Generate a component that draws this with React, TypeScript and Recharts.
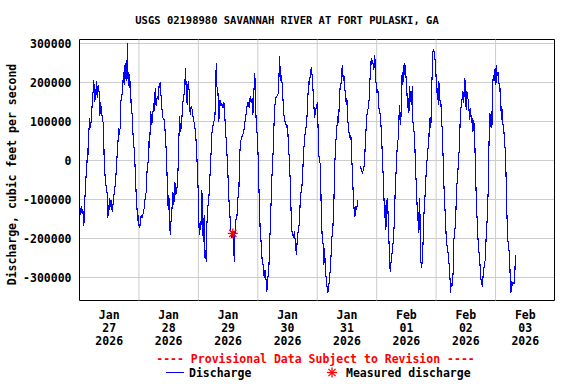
import React from 'react';
import {
  ComposedChart,
  Line,
  Scatter,
  XAxis,
  YAxis,
  CartesianGrid,
  ReferenceLine,
  ReferenceArea,
} from 'recharts';

// hours since 2026-01-27 00:00, discharge in cfs (thousands); null = gap in record
const discharge: [number, number | null][] = [
  [0.27, -122], [0.54, -140], [0.81, -118], [1.08, -138], [1.35, -125], [1.75, -169], [2.02, -122],
  [2.42, -62], [2.69, -37], [2.96, -15], [3.23, 32], [3.5, 15], [3.77, 74], [4.17, 109], [4.31, 83],
  [4.58, 91], [4.85, 117], [5.12, 143], [5.39, 168], [5.79, 207], [6.06, 151], [6.46, 160], [6.87, 203],
  [7.14, 160], [7.54, 194], [7.94, 173], [8.21, 113], [8.48, 151], [8.89, 126], [9.15, 113], [9.69, 91],
  [9.96, 2], [10.37, -45], [10.77, -67], [11.17, -84], [11.44, -148], [11.71, -114], [12.12, -127],
  [12.25, -97], [12.52, -118], [12.92, -101], [13.19, -131], [13.6, -109], [14.0, -84], [14.54, -58],
  [14.94, -11], [15.21, 15], [15.62, 57], [15.75, 83], [16.02, 66], [16.42, 83], [16.69, 151],
  [17.1, 164], [17.5, 194], [17.77, 228], [18.04, 194], [18.44, 250], [18.85, 203], [19.12, 239],
  [19.39, 301], [19.66, 190], [19.93, 228], [20.33, 186], [20.6, 203], [20.87, 134], [21.27, 117],
  [21.54, 74], [21.95, 40], [22.35, -3], [22.89, -88], [23.29, -131], [23.56, -156], [23.83, -139],
  [24.1, -174], [24.5, -165], [24.91, -139], [25.31, -148], [25.71, -135], [26.12, -122], [26.52, -97],
  [26.93, -80], [27.33, -20], [27.73, -3], [28.0, 49], [28.27, 32], [28.54, 83], [28.81, 126],
  [29.08, 91], [29.48, 104], [29.89, 147],
  [30.29, 126], [30.56, 186], [30.96, 139], [31.37, 164], [31.77, 156], [32.17, 194], [32.58, 198],
  [32.85, 173], [33.25, 134], [33.66, 109], [34.33, 104], [34.73, 53], [35.14, 15], [35.41, -54],
  [35.81, -127], [36.08, -88], [36.35, -139], [36.62, -191], [36.89, -161], [37.29, -131], [37.69, -80],
  [38.1, -114], [38.5, -54], [38.91, -88], [39.31, -75], [39.71, -37], [39.98, 19], [40.39, 113],
  [40.79, 74], [41.19, 87], [41.6, 143], [42.0, 160], [42.41, 177], [42.81, 237], [43.08, 186],
  [43.48, 143], [43.89, 203], [44.29, 177], [44.7, 117], [45.1, 139], [45.5, 130], [45.91, 109],
  [46.31, 96], [46.85, 74], [47.25, 32], [47.66, -32], [48.06, -105], [48.33, -191], [48.6, -165],
  [49.0, -178], [49.41, -75], [49.68, -131], [49.95, -208], [50.35, -139], [50.62, -250], [50.89, -229],
  [51.16, -259], [51.43, -165], [51.83, -118], [52.23, -97], [52.64, -45], [53.04, 6], [53.45, 70],
  [53.85, 87], [54.25, 100], [54.66, 109], [54.93, 168], [55.2, 250], [55.47, 190], [55.87, 182],
  [56.27, 100], [56.68, 156], [57.08, 139], [57.49, 147], [57.89, 134], [58.29, 151], [58.7, 109],
  [59.1, 66], [59.5, 23], [59.91, -32], [60.31, -97],
  [60.98, -165], [61.39, -199], [61.79, -191], [62.2, -182], [62.46, -259], [62.73, -191], [63.14, -152],
  [63.54, -148], [63.95, -97], [64.35, -80], [64.62, 6], [65.02, 49], [65.43, 57], [65.83, 66],
  [66.23, 70], [66.5, 83], [66.91, 104], [67.31, 121], [67.72, 143], [68.12, 151], [68.52, 134],
  [68.93, 164], [69.33, 147], [69.73, 160], [70.0, 117], [70.41, 177], [70.81, 224], [71.08, 143],
  [71.35, 100], [71.75, 66], [72.16, 6], [72.56, -97], [72.97, -182], [73.37, -212], [73.77, -259],
  [74.18, -268], [74.58, -302], [74.85, -280], [75.12, -293], [75.39, -310], [75.66, -336], [76.06, -302],
  [76.47, -276], [76.87, -199], [77.28, -122], [77.68, -45], [78.08, 6], [78.49, 83], [78.76, 130],
  [79.16, 160], [79.56, 164], [79.97, 168], [80.37, 173], [80.77, 267], [81.04, 228], [81.31, 203],
  [81.58, 220], [81.99, 177], [82.39, 130], [82.79, 100], [83.2, 100], [83.6, 83], [84.01, 91],
  [84.41, 32], [84.81, -3], [85.22, -80], [85.62, -174], [86.02, -191], [86.43, -195], [86.83, -182],
  [87.24, -221], [87.64, -242], [88.04, -186], [88.45, -182], [88.85, -148], [89.26, -84], [89.66, -80],
  [90.06, -45], [90.47, 23],
  [91.27, 83], [91.68, 87], [92.08, 143], [92.49, 203], [92.89, 194], [93.29, 233], [93.7, 237],
  [94.1, 203], [94.51, 156], [94.91, 109], [95.31, 126], [95.72, 143], [96.12, 147], [96.52, 23],
  [96.93, -3], [97.33, -9], [97.6, -131], [98.01, -199], [98.41, -216], [98.68, -268], [98.95, -225],
  [99.35, -285], [99.62, -302], [100.02, -327], [100.29, -340], [100.7, -319], [101.1, -293],
  [101.51, -250], [101.91, -199], [102.31, -174], [102.72, -105], [103.12, -3], [103.53, 49],
  [103.93, 87], [104.33, 113], [104.6, 96], [104.87, 143], [105.28, 194], [105.68, 198], [105.95, 233],
  [106.22, 245], [106.49, 203], [106.76, 220], [107.03, 186], [107.43, 173], [107.7, 143], [107.97, 160],
  [108.37, 100], [108.78, 74], [109.18, 57], [109.58, 66], [109.85, 15], [110.26, -37], [110.53, -88],
  [110.93, -131], [111.2, -144], [111.47, -118], [111.87, -127], [112.14, -114], [112.41, -101],
  [112.9, null],
  [113.49, -15], [113.89, -28], [114.3, -32], [114.7, -20], [115.1, -11], [115.37, 40], [115.78, 87],
  [116.18, 126], [116.58, 134], [116.99, 160], [117.26, 203], [117.53, 237], [117.8, 262], [118.06, 245],
  [118.33, 258], [118.87, 233], [119.14, 271], [119.41, 254], [119.68, 203], [120.08, 177], [120.49, 182],
  [120.89, 134],
  [121.16, 130], [121.56, 109], [121.97, 66], [122.37, -3], [122.78, -62], [123.18, -148], [123.45, -114],
  [123.72, -178], [123.99, -105], [124.39, -97], [124.66, -152], [124.93, -199], [125.2, -259],
  [125.47, -285], [125.87, -255], [126.28, -233], [126.68, -208], [127.08, -165], [127.49, -75],
  [127.89, -20], [128.3, 36], [128.7, 57], [128.97, 109], [129.24, 143], [129.51, 91], [129.78, 104],
  [130.05, 194], [130.32, 228], [130.58, 194], [130.85, 245], [131.12, 220], [131.39, 250], [131.66, 211],
  [131.93, 216], [132.2, 177], [132.47, 134], [132.74, 160], [133.01, 121], [133.28, 190], [133.55, 151],
  [133.82, 177], [134.08, 143], [134.35, 190], [134.62, 100], [134.89, 83], [135.3, 66], [135.7, -28],
  [136.1, -71], [136.51, -156], [136.78, -131], [137.05, -186], [137.32, -97], [137.59, -165],
  [137.85, -259], [138.12, -276], [138.39, -259], [138.66, -221], [139.07, -139], [139.47, -97],
  [139.87, -45], [140.28, -3], [140.68, 27], [141.09, 57], [141.35, 109], [141.62, 91], [141.89, 83],
  [142.16, 190], [142.43, 220], [142.7, 280], [142.97, 286], [143.24, 275], [143.51, 262], [143.78, 245],
  [144.05, 203], [144.32, 173], [144.59, 186], [144.86, 143], [145.12, 203], [145.39, 168], [145.66, 147],
  [145.93, 151], [146.2, 100], [146.47, 79], [146.87, -3], [147.28, -88], [147.68, -139], [148.09, -199],
  [148.49, -225], [148.76, -233], [149.03, -255], [149.3, -268], [149.57, -297], [149.84, -340],
  [150.11, -314], [150.37, -323], [150.64, -314], [150.91, -280], [151.18, -203],
  [151.85, -161], [152.26, -71], [152.66, -45], [153.07, 6], [153.47, 40], [153.74, 113], [154.01, 134],
  [154.28, 143], [154.55, 164], [154.82, 177], [155.09, 147], [155.35, 173], [155.62, 211], [155.89, 160],
  [156.16, 130], [156.43, 177], [156.7, 160], [156.97, 156], [157.24, 134], [157.51, 104], [157.78, 134],
  [158.05, 117], [158.32, 96], [158.59, 109], [158.85, 74], [159.12, 104], [159.39, 91], [159.8, 6],
  [160.2, -97], [160.61, -161], [161.01, -212], [161.41, -242], [161.82, -276], [162.22, -314],
  [162.62, -319], [163.03, -293], [163.43, -268], [163.84, -255], [164.24, -191], [164.64, -148],
  [165.05, -71], [165.45, 79], [165.72, 121], [165.99, 87], [166.26, 126], [166.53, 83], [166.8, 186],
  [167.07, 220], [167.34, 203], [167.61, 228], [167.88, 237], [168.14, 194], [168.41, 245], [168.68, 216],
  [168.95, 228], [169.22, 211], [169.49, 190], [169.76, 177], [170.03, 186], [170.3, 104], [170.57, 134],
  [170.84, 96], [171.24, 87], [171.64, 49], [172.05, 15], [172.45, -105], [172.86, -199], [173.26, -221],
  [173.66, -242], [173.93, -306], [174.2, -340], [174.47, -310], [174.74, -319], [175.01, -314],
  [175.41, -314], [175.68, -314], [175.95, -255], [176.22, -242],
];

const measuredTimes = [61.9];
const measuredValues = [-187000];

const dayTicks = [12, 36, 60, 84, 108, 132, 156, 180];
const dayMonths = ['Jan', 'Jan', 'Jan', 'Jan', 'Jan', 'Feb', 'Feb', 'Feb'];
const dayNumbers = ['27', '28', '29', '30', '31', '01', '02', '03'];
const dayYear = '2026';
const midnights = [24, 48, 72, 96, 120, 144, 168];
const yTicks = [-300000, -200000, -100000, 0, 100000, 200000, 300000];

const X_MAX = 191.8;
const Y_MIN = -359000;
const Y_MAX = 310300;

const series = discharge.map(([t, q]) => ({ t, q: q === null ? null : q * 1000 }));
const measured = measuredTimes.map((t, i) => ({ t, q: measuredValues[i] }));

const FONT = '"DejaVu Sans Mono", monospace';
const tickStyle = { fontFamily: FONT, fontWeight: 'bold' as const, fontSize: 11.5, fill: '#000' };

function DayTick({ x, y, payload }: any) {
  const i = dayTicks.indexOf(payload.value);
  if (i < 0) return null;
  return (
    <text textAnchor="middle" style={tickStyle}>
      <tspan x={x} y={y + 10}>{dayMonths[i]}</tspan>
      <tspan x={x} y={y + 23}>{dayNumbers[i]}</tspan>
      <tspan x={x} y={y + 36}>{dayYear}</tspan>
    </text>
  );
}

function Star({ cx, cy }: any) {
  const r = 5;
  return (
    <g stroke="#ff0000" strokeWidth={1.3}>
      <line x1={cx - r} y1={cy} x2={cx + r} y2={cy} />
      <line x1={cx} y1={cy - r} x2={cx} y2={cy + r} />
      <line x1={cx - 3.6} y1={cy - 3.6} x2={cx + 3.6} y2={cy + 3.6} />
      <line x1={cx - 3.6} y1={cy + 3.6} x2={cx + 3.6} y2={cy - 3.6} />
    </g>
  );
}

const overlayText = (fontSize: number, color = '#000'): React.CSSProperties => ({
  position: 'absolute',
  fontFamily: FONT,
  fontWeight: 'bold',
  fontSize,
  lineHeight: `${fontSize}px`,
  color,
  whiteSpace: 'pre',
});

export default function App() {
  return (
    <div style={{ position: 'relative', width: 576, height: 384, background: '#fff' }}>
      <style>{'body{margin:0}'}</style>
      <ComposedChart
        width={576}
        height={384}
        data={series}
        margin={{ top: 39.5, right: 21.5, bottom: 53.5, left: 0 }}
      >
        <CartesianGrid vertical={false} stroke="#cccccc" />
        {midnights.map((h) => (
          <ReferenceLine key={h} x={h} stroke="#cccccc" />
        ))}
        <XAxis
          dataKey="t"
          type="number"
          domain={[0, X_MAX]}
          ticks={dayTicks}
          tick={<DayTick />}
          tickLine={false}
          axisLine={false}
          height={30}
          interval={0}
        />
        <YAxis
          type="number"
          domain={[Y_MIN, Y_MAX]}
          ticks={yTicks}
          width={79.5}
          tickLine={false}
          axisLine={false}
          tick={tickStyle}
          interval={0}
          label={{
            content: () => (
              <text
                x={11.5}
                y={174.5}
                transform="rotate(-90 11.5 174.5)"
                textAnchor="middle"
                dominantBaseline="central"
                style={tickStyle}
              >
                Discharge, cubic feet per second
              </text>
            ),
          }}
        />
        <Line
          dataKey="q"
          type="linear"
          stroke="#0000ff"
          strokeWidth={1.1}
          dot={false}
          activeDot={false}
          connectNulls={false}
          isAnimationActive={false}
          shapeRendering="crispEdges"
        />
        <Scatter data={measured} dataKey="q" shape={<Star />} isAnimationActive={false} />
        <ReferenceArea x1={0} x2={X_MAX} y1={Y_MIN} y2={Y_MAX} fill="none" stroke="#000" strokeWidth={1} />
      </ComposedChart>

      <div style={{ ...overlayText(10.5), left: 287, top: 15.3, transform: 'translateX(-50%)' }}>
        USGS 02198980 SAVANNAH RIVER AT FORT PULASKI, GA
      </div>
      <div style={{ ...overlayText(11.5, '#ff0000'), left: 315.5, top: 353.5, transform: 'translateX(-50%)' }}>
        ---- Provisional Data Subject to Revision ----
      </div>
      <svg width={576} height={384} style={{ position: 'absolute', left: 0, top: 0, pointerEvents: 'none' }}>
        <line x1={166} y1={372.5} x2={184} y2={372.5} stroke="#0000ff" strokeWidth={1} />
        <Star cx={332} cy={372.5} />
      </svg>
      <div style={{ ...overlayText(11.5), left: 189, top: 367.5 }}>Discharge</div>
      <div style={{ ...overlayText(11.5), left: 346, top: 367.5 }}>Measured discharge</div>
    </div>
  );
}
